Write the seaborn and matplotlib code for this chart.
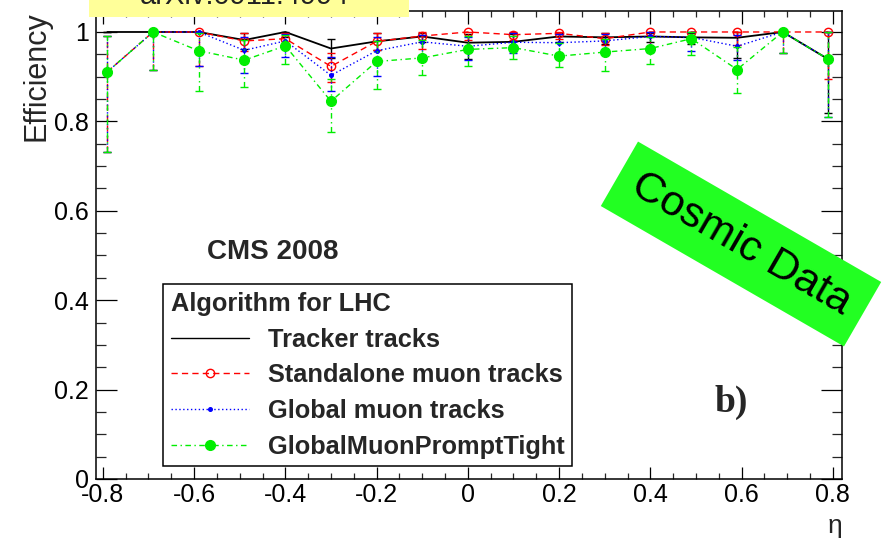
import matplotlib
matplotlib.use("Agg")
import matplotlib.pyplot as plt
import seaborn as sns
from matplotlib.lines import Line2D
from matplotlib.patches import Rectangle
from matplotlib.ticker import FixedLocator, FixedFormatter, MultipleLocator

# ---- data -------------------------------------------------------------
eta = [-0.79, -0.69, -0.59, -0.49, -0.40, -0.30, -0.20, -0.10, 0.00,
       0.10, 0.20, 0.30, 0.40, 0.49, 0.59, 0.69, 0.79]

trk_eff = [1.0, 1.0, 1.0, 0.982, 1.0, 0.963, 0.979, 0.99, 0.976,
           0.978, 0.99, 0.988, 0.99, 0.988, 0.987, 1.0, 0.939]
trk_lo = [0.0, 0.0, 0.0, 0.02, 0.012, 0.022, 0.02, 0.012, 0.037,
          0.02, 0.012, 0.015, 0.012, 0.015, 0.045, 0.0, 0.12]
trk_hi = [0.0, 0.0, 0.0, 0.015, 0.0, 0.022, 0.018, 0.008, 0.02,
          0.018, 0.008, 0.01, 0.008, 0.01, 0.012, 0.0, 0.06]

sta_eff = [0.911, 1.0, 1.0, 0.980, 0.985, 0.923, 0.979, 0.991, 1.0,
           0.994, 0.997, 0.985, 1.0, 1.0, 1.0, 1.0, 1.0]
sta_lo = [0.18, 0.086, 0.075, 0.022, 0.02, 0.035, 0.02, 0.028, 0.018,
          0.012, 0.012, 0.015, 0.035, 0.02, 0.03, 0.048, 0.105]
sta_hi = [0.08, 0.0, 0.0, 0.017, 0.013, 0.03, 0.018, 0.009, 0.0,
          0.006, 0.003, 0.012, 0.0, 0.0, 0.0, 0.0, 0.0]

glb_eff = [0.911, 1.0, 1.0, 0.959, 0.98, 0.903, 0.958, 0.978, 0.968,
           0.977, 0.976, 0.98, 0.99, 0.988, 0.968, 1.0, 0.939]
glb_lo = [0.18, 0.086, 0.075, 0.05, 0.035, 0.036, 0.056, 0.03, 0.03,
          0.025, 0.025, 0.03, 0.035, 0.03, 0.03, 0.048, 0.13]
glb_hi = [0.08, 0.0, 0.0, 0.03, 0.015, 0.04, 0.03, 0.015, 0.02,
          0.02, 0.02, 0.015, 0.01, 0.012, 0.025, 0.0, 0.06]

gmt_eff = [0.911, 1.0, 0.958, 0.937, 0.969, 0.845, 0.934, 0.942, 0.961,
           0.965, 0.946, 0.955, 0.963, 0.985, 0.916, 1.0, 0.939]
gmt_lo = [0.18, 0.086, 0.091, 0.059, 0.041, 0.069, 0.061, 0.038, 0.036,
          0.025, 0.024, 0.043, 0.034, 0.036, 0.052, 0.048, 0.129]
gmt_hi = [0.08, 0.0, 0.04, 0.045, 0.025, 0.05, 0.045, 0.04, 0.03,
          0.025, 0.03, 0.03, 0.025, 0.015, 0.05, 0.0, 0.06]

series_labels = ["Tracker tracks", "Standalone muon tracks",
                 "Global muon tracks", "GlobalMuonPromptTight"]

xtick_vals = [-0.8, -0.6, -0.4, -0.2, 0.0, 0.2, 0.4, 0.6, 0.8]
xtick_labels = ["-0.8", "-0.6", "-0.4", "-0.2", "0", "0.2", "0.4", "0.6", "0.8"]
ytick_vals = [0.0, 0.2, 0.4, 0.6, 0.8, 1.0]
ytick_labels = ["0", "0.2", "0.4", "0.6", "0.8", "1"]

# ---- style ------------------------------------------------------------
sns.set_theme(style="ticks")
plt.rcParams["font.family"] = ["Liberation Sans", "DejaVu Sans"]

fig = plt.figure(figsize=(8.87, 5.38), dpi=100)
fig.patch.set_facecolor("white")
ax = fig.add_axes([0.1082, 0.1097, 0.9493 - 0.1082, 0.9796 - 0.1097])
ax.set_facecolor("white")
ax.grid(False)

styles = [
    dict(color="#000000", ls="-", marker=None, ms=0, mfc="none", z=2),
    dict(color="#ff0000", ls=(0, (4.5, 3.0)), marker="o", ms=6.0, mfc="none", z=3),
    dict(color="#0000ff", ls=(0, (1.0, 1.8)), marker="o", ms=2.6, mfc="#0000ff", z=4),
    dict(color="#00ee00", ls=(0, (4.0, 2.5, 1.0, 2.5)), marker="o", ms=7.0, mfc="#00ee00", z=5),
]
effs = [trk_eff, sta_eff, glb_eff, gmt_eff]
los = [trk_lo, sta_lo, glb_lo, gmt_lo]
his = [trk_hi, sta_hi, glb_hi, gmt_hi]

for eff, lo, hi, st in zip(effs, los, his, styles):
    lw = 1.3 if st["marker"] is None else 1.0
    kw = dict(color=st["color"], linestyle=st["ls"], linewidth=lw, zorder=st["z"])
    if st["marker"]:
        kw.update(marker=st["marker"], markersize=st["ms"],
                  markerfacecolor=st["mfc"], markeredgecolor=st["color"],
                  markeredgewidth=1.0)
    sns.lineplot(x=eta, y=eff, ax=ax, estimator=None, errorbar=None,
                 sort=False, legend=False, **kw)
    eb = ax.errorbar(eta, eff, yerr=[lo, hi], fmt="none", ecolor=st["color"],
                     elinewidth=1.0, capsize=2.6, capthick=1.0, zorder=st["z"] - 0.5)
    eb[2][0].set_linestyle(st["ls"] if st["ls"] != "-" else "solid")

# ---- axes -------------------------------------------------------------
ax.set_xlim(-0.815, 0.82)
ax.set_ylim(0.0, 1.047)
ax.xaxis.set_major_locator(FixedLocator(xtick_vals))
ax.xaxis.set_major_formatter(FixedFormatter(xtick_labels))
ax.xaxis.set_minor_locator(MultipleLocator(0.05))
ax.yaxis.set_major_locator(FixedLocator(ytick_vals))
ax.yaxis.set_major_formatter(FixedFormatter(ytick_labels))
ax.yaxis.set_minor_locator(MultipleLocator(0.05))

ax.tick_params(axis="x", which="major", direction="in", length=9, width=0.9,
               top=True, bottom=True, labelsize=18, pad=3, colors="black")
ax.tick_params(axis="x", which="minor", direction="in", length=4.5, width=0.9,
               top=True, bottom=True)
ax.tick_params(axis="y", which="major", direction="in", length=15, width=0.9,
               left=True, right=True, labelsize=18, pad=5, colors="black")
ax.tick_params(axis="y", which="minor", direction="in", length=7.5, width=0.9,
               left=True, right=True)
for sp in ax.spines.values():
    sp.set_visible(True)
    sp.set_color("black")
    sp.set_linewidth(1.1)

ax.set_ylabel("Efficiency", fontsize=22, loc="top")
ax.yaxis.set_label_coords(-0.059, 1.0)
ax.set_xlabel("η", fontsize=19, loc="right")
ax.xaxis.set_label_coords(1.0, -0.075)

# ---- legend -----------------------------------------------------------
handles = []
for st in styles:
    handles.append(Line2D([], [], color=st["color"], linestyle=st["ls"],
                          linewidth=1.0, marker=st["marker"], markersize=st["ms"],
                          markerfacecolor=st["mfc"], markeredgecolor=st["color"]))
leg = ax.legend(handles, series_labels, title="Algorithm for LHC",
                loc="lower left", bbox_to_anchor=(0.0898, 0.027), borderaxespad=0,
                frameon=True, fancybox=False, framealpha=1, edgecolor="black",
                facecolor="white", prop={"weight": "bold", "size": 18.3},
                title_fontproperties={"weight": "bold", "size": 18.3},
                alignment="left", handlelength=3.1, handletextpad=0.72,
                labelspacing=0.46, borderpad=0.3, numpoints=1)
leg.get_frame().set_linewidth(1.1)
leg.set_zorder(10)

# ---- annotations ------------------------------------------------------
ax.text(0.149, 0.485, "CMS 2008", transform=ax.transAxes, fontsize=20,
        fontweight="bold", ha="left", va="center")
ax.text(0.852, 0.1645, "b)", transform=ax.transAxes, fontsize=27,
        fontweight="bold", family=["Liberation Serif", "DejaVu Serif"],
        ha="center", va="center")

fig.text(741 / 887, 1 - 244 / 538, "Cosmic Data", rotation=-30,
         rotation_mode="anchor", ha="center", va="center", fontsize=31,
         color="black",
         bbox=dict(boxstyle="square,pad=0.4", fc="#22ff22", ec="none"))

fig.add_artist(Rectangle((89 / 887, 1 - 17 / 538), (409 - 89) / 887, 17 / 538,
                         transform=fig.transFigure, fc="#ffff99", ec="none",
                         zorder=5))
fig.text(140 / 887, 1 - 4 / 538, "arXiv:0911.4994", fontsize=21,
         color="#222222", ha="left", va="baseline", zorder=6)

fig.savefig("out.png", dpi=100)
